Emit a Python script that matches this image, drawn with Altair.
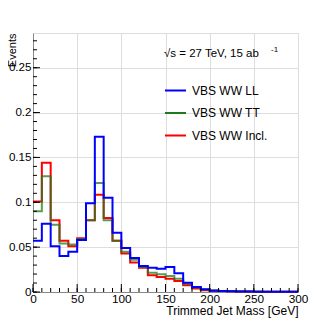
import altair as alt
import pandas as pd

edges = list(range(0, 310, 10))
series_names = ["VBS WW LL", "VBS WW TT", "VBS WW Incl."]
colors = ["#0000ff", "#1f7a1f", "#ff0000"]

ll = [0.057, 0.076, 0.051, 0.040, 0.045, 0.058, 0.099, 0.173, 0.105, 0.066,
      0.049, 0.038, 0.029, 0.027, 0.026, 0.028, 0.021, 0.0104, 0.0056, 0.003,
      0.0015, 0.001, 0.0008, 0.0006, 0.0005, 0.0004, 0.0003, 0.0003, 0.0002, 0.0002]
tt = [0.090, 0.129, 0.075, 0.054, 0.053, 0.059, 0.080, 0.1215, 0.080, 0.057,
      0.045, 0.036, 0.028, 0.0215, 0.0197, 0.0178, 0.0149, 0.0093, 0.0049, 0.0027,
      0.0019, 0.0012, 0.001, 0.0008, 0.0006, 0.0005, 0.0004, 0.0003, 0.0003, 0.0002]
incl = [0.101, 0.144, 0.080, 0.057, 0.051, 0.060, 0.080, 0.1085, 0.0826, 0.057,
        0.043, 0.033, 0.027, 0.0186, 0.0167, 0.0149, 0.0122, 0.0074, 0.0038, 0.002,
        0.0015, 0.001, 0.0008, 0.0006, 0.0005, 0.0004, 0.0003, 0.0003, 0.0002, 0.0002]

x_major = [0, 50, 100, 150, 200, 250, 300]
x_minor = list(range(0, 310, 10))
y_major = [0, 0.05, 0.1, 0.15, 0.2, 0.25]
y_minor = [round(i * 0.01, 2) for i in range(0, 29)]

W, H = 265, 259
FONT = "Liberation Sans"

rows = []
for name, vals in zip(series_names, [ll, tt, incl]):
    for i, v in enumerate(vals):
        rows.append({"series": name, "x": edges[i], "y": v})
    rows.append({"series": name, "x": edges[-1], "y": vals[-1]})
df = pd.DataFrame(rows)

xs = alt.Scale(domain=[0, 300], nice=False, zero=False)
ys = alt.Scale(domain=[0, 0.2887], nice=False, zero=False)
cs = alt.Scale(domain=series_names, range=colors)

x_axis = alt.Axis(values=x_major, title="Trimmed Jet Mass [GeV]", ticks=False,
                  titleAnchor="end", titleAlign="right",
                  titleBaseline="alphabetic", titleY=22, titleX=W,
                  titleFont=FONT, titleFontWeight="normal", titleFontSize=12,
                  labelFont=FONT, labelFontSize=11.8,
                  labelPadding=1, format="d", labelFlush=False)
y_axis = alt.Axis(values=y_major, title="Events", format="~g", ticks=False,
                  titleAngle=-90, titleX=-16, titleY=0,
                  titleAlign="right", titleBaseline="bottom",
                  titleFont=FONT, titleFontWeight="normal", titleFontSize=11,
                  labelFont=FONT, labelFontSize=11.6,
                  labelPadding=2, labelFlush=False)

legend = alt.Legend(
    title=None, orient="none", legendX=131, legendY=46,
    symbolType="stroke", symbolSize=441, symbolStrokeWidth=2,
    labelFont=FONT, labelFontSize=12, labelColor="black",
    rowPadding=4.5, labelOffset=5,
)


def line_layer(name, opacity=1.0):
    return alt.Chart(df).transform_filter(
        alt.datum.series == name
    ).mark_line(interpolate="step-after", strokeWidth=2, opacity=opacity).encode(
        x=alt.X("x:Q", scale=xs, axis=x_axis),
        y=alt.Y("y:Q", scale=ys, axis=y_axis),
        color=alt.Color("series:N", scale=cs, legend=legend),
    )


red = line_layer("VBS WW Incl.")
green = line_layer("VBS WW TT", opacity=0.75)
blue = line_layer("VBS WW LL")

xmaj = alt.Chart(pd.DataFrame({"x": x_major})).mark_rule(color="black", strokeWidth=1).encode(
    x=alt.X("x:Q", scale=xs, axis=x_axis), y=alt.value(H), y2=alt.value(H - 8))
xmin = alt.Chart(pd.DataFrame({"x": x_minor})).mark_rule(color="black", strokeWidth=1).encode(
    x=alt.X("x:Q", scale=xs, axis=x_axis), y=alt.value(H), y2=alt.value(H - 4))
ymaj = alt.Chart(pd.DataFrame({"y": y_major})).mark_rule(color="black", strokeWidth=1).encode(
    y=alt.Y("y:Q", scale=ys, axis=y_axis), x=alt.value(0), x2=alt.value(7))
ymin = alt.Chart(pd.DataFrame({"y": y_minor})).mark_rule(color="black", strokeWidth=1).encode(
    y=alt.Y("y:Q", scale=ys, axis=y_axis), x=alt.value(0), x2=alt.value(4))

hdr = alt.Chart(pd.DataFrame({"t": ["√s = 27 TeV, 15 ab"]})).mark_text(
    font=FONT, fontSize=11.5, align="left", baseline="alphabetic", color="black"
).encode(text="t:N", x=alt.value(131), y=alt.value(24))
sup = alt.Chart(pd.DataFrame({"t": ["-1"]})).mark_text(
    font=FONT, fontSize=8, align="left", baseline="alphabetic", color="black"
).encode(text="t:N", x=alt.value(238), y=alt.value(19))

chart = alt.layer(red, green, blue, xmin, xmaj, ymin, ymaj, hdr, sup).resolve_scale(
    color="shared"
).properties(
    width=W, height=H,
    padding={"left": 25, "top": 25, "right": 20, "bottom": 30},
    autosize=alt.AutoSizeParams(type="none"),
).configure_view(
    stroke="black", strokeWidth=1
).configure_axis(
    labelFont=FONT, titleFont=FONT, labelColor="black",
    titleColor="black", domainColor="black", ticks=False, grid=False,
).configure(background="white")

chart.save("out.html", embed_options={"renderer": "svg", "actions": False})
